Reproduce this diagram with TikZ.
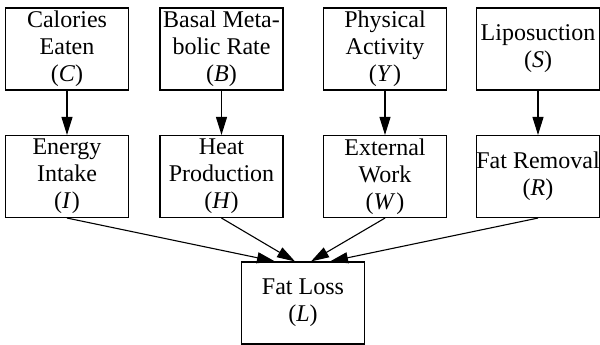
\documentclass[tikz,border=0pt]{standalone}
\usepackage{fontspec}
\setmainfont{LiberationSerif}[Extension=.ttf, UprightFont=*-Regular, ItalicFont=*-Italic, BoldFont=*-Bold]
\usetikzlibrary{arrows.meta,calc}
\begin{document}
\begin{tikzpicture}[x=1pt,y=-1pt,
  var/.style={draw, line width=1.1pt, minimum width=123pt, minimum height=82pt,
    inner sep=0pt, align=center, font=\rmfamily\fontsize{24}{27}\selectfont},
  edge/.style={line width=1.1pt, -{Triangle[length=18pt,width=11pt]}}]
\useasboundingbox (0,0) rectangle (600,345);
% top row
\node[var] (C) at (67,49) {Calories\\Eaten\\(\textit{C})};
\node[var] (B) at (221.5,49) {Basal Meta-\\bolic Rate\\(\textit{B})};
\node[var] (Y) at (385,49) {Physical\\Activity\\(\textit{Y}\kern1pt)};
\node[var] (S) at (538,49) {Liposuction\\(\textit{S})};
% middle row
\node[var] (I) at (67,176.5) {Energy\\Intake\\(\textit{I}\kern1pt)};
\node[var] (H) at (221.5,176.5) {Heat\\Production\\(\textit{H})};
\node[var] (W) at (385,176.5) {External\\Work\\(\textit{W}\kern1pt)};
\node[var] (R) at (538,176.5) {Fat Removal\\(\textit{R})};
% bottom
\node[var] (L) at (303,303) {Fat Loss\\(\textit{L})};
\coordinate (L1) at ($(L.north)+(-28,0)$);
\coordinate (L2) at ($(L.north)+(-8,0)$);
\coordinate (L3) at ($(L.north)+(8,0)$);
\coordinate (L4) at ($(L.north)+(27,0)$);
% edges
\draw[edge] (C) -- (I);
\draw[edge] (B) -- (H);
\draw[edge] (Y) -- (W);
\draw[edge] (S) -- (R);
\draw[edge] (I.south) -- (L1);
\draw[edge] (H.south) -- (L2);
\draw[edge] (W.south) -- (L3);
\draw[edge] (R.south) -- (L4);
\end{tikzpicture}
\end{document}
